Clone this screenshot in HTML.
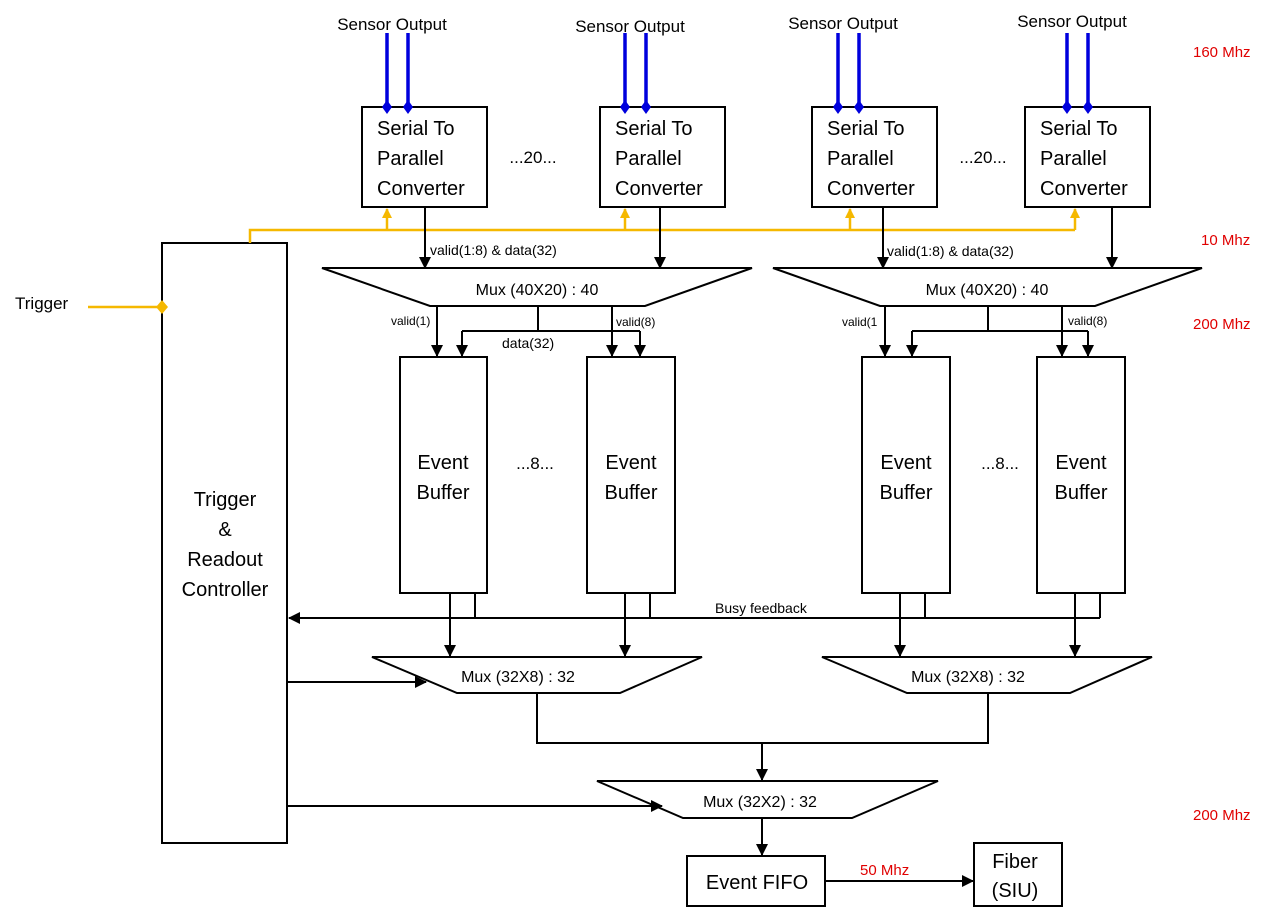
<!DOCTYPE html>
<html><head><meta charset="utf-8"><style>
html,body{margin:0;padding:0;background:#fff;}
svg{display:block;font-family:"Liberation Sans",sans-serif;}
</style></head><body>
<svg width="1287" height="921" viewBox="0 0 1287 921" xmlns="http://www.w3.org/2000/svg">
<defs>
<marker id="a" markerWidth="12" markerHeight="12" refX="11" refY="6" orient="auto" markerUnits="userSpaceOnUse"><path d="M0,0 L12,6 L0,12 z" fill="#000"/></marker>
<marker id="y" markerWidth="10" markerHeight="10" refX="9" refY="5" orient="auto" markerUnits="userSpaceOnUse"><path d="M0,0 L10,5 L0,10 z" fill="#f5b800"/></marker>
</defs>
<g font-size="17" fill="#000" text-anchor="middle">
<text x="392" y="30">Sensor Output</text>
<text x="630" y="32">Sensor Output</text>
<text x="843" y="29">Sensor Output</text>
<text x="1072" y="27">Sensor Output</text>
</g>
<g stroke="#0000dd" stroke-width="3.5">
<line x1="387" y1="33" x2="387" y2="107"/><line x1="408" y1="33" x2="408" y2="107"/>
<line x1="625" y1="33" x2="625" y2="107"/><line x1="646" y1="33" x2="646" y2="107"/>
<line x1="838" y1="33" x2="838" y2="107"/><line x1="859" y1="33" x2="859" y2="107"/>
<line x1="1067" y1="33" x2="1067" y2="107"/><line x1="1088" y1="33" x2="1088" y2="107"/>
</g>
<g fill="#fff" stroke="#000" stroke-width="2">
<rect x="362" y="107" width="125" height="100"/>
<rect x="600" y="107" width="125" height="100"/>
<rect x="812" y="107" width="125" height="100"/>
<rect x="1025" y="107" width="125" height="100"/>
<rect x="162" y="243" width="125" height="600"/>
<rect x="400" y="357" width="87" height="236"/>
<rect x="587" y="357" width="88" height="236"/>
<rect x="862" y="357" width="88" height="236"/>
<rect x="1037" y="357" width="88" height="236"/>
<rect x="687" y="856" width="138" height="50"/>
<rect x="974" y="843" width="88" height="63"/>
<path d="M322,268 L752,268 L645,306 L430,306 Z"/>
<path d="M773,268 L1202,268 L1095,306 L880,306 Z"/>
<path d="M372,657 L702,657 L620,693 L457,693 Z"/>
<path d="M822,657 L1152,657 L1070,693 L907,693 Z"/>
<path d="M597,781 L938,781 L852,818 L683,818 Z"/>
</g>
<g fill="#0000dd">
<path d="M387,100 l5,7 -5,7 -5,-7z"/><path d="M408,100 l5,7 -5,7 -5,-7z"/>
<path d="M625,100 l5,7 -5,7 -5,-7z"/><path d="M646,100 l5,7 -5,7 -5,-7z"/>
<path d="M838,100 l5,7 -5,7 -5,-7z"/><path d="M859,100 l5,7 -5,7 -5,-7z"/>
<path d="M1067,100 l5,7 -5,7 -5,-7z"/><path d="M1088,100 l5,7 -5,7 -5,-7z"/>
</g>
<g font-size="20" fill="#000">
<text x="377" y="135">Serial  To</text><text x="377" y="165">Parallel</text><text x="377" y="195">Converter</text>
<text x="615" y="135">Serial To</text><text x="615" y="165">Parallel</text><text x="615" y="195">Converter</text>
<text x="827" y="135">Serial To</text><text x="827" y="165">Parallel</text><text x="827" y="195">Converter</text>
<text x="1040" y="135">Serial To</text><text x="1040" y="165">Parallel</text><text x="1040" y="195">Converter</text>
</g>
<g font-size="17" text-anchor="middle">
<text x="533" y="163">...20...</text><text x="983" y="163">...20...</text>
<text x="535" y="469">...8...</text><text x="1000" y="469">...8...</text>
</g>
<g font-size="20" text-anchor="middle">
<text x="443" y="469">Event</text><text x="443" y="499">Buffer</text>
<text x="631" y="469">Event</text><text x="631" y="499">Buffer</text>
<text x="906" y="469">Event</text><text x="906" y="499">Buffer</text>
<text x="1081" y="469">Event</text><text x="1081" y="499">Buffer</text>
<text x="225" y="506">Trigger</text><text x="225" y="536">&amp;</text><text x="225" y="566">Readout</text><text x="225" y="596">Controller</text>
<text x="757" y="889">Event FIFO</text>
<text x="1015" y="868">Fiber</text><text x="1015" y="897">(SIU)</text>
</g>
<g font-size="16" text-anchor="middle">
<text x="537" y="295">Mux (40X20) : 40</text>
<text x="987" y="295">Mux (40X20) : 40</text>
<text x="518" y="682">Mux (32X8) : 32</text>
<text x="968" y="682">Mux (32X8) : 32</text>
<text x="760" y="807">Mux (32X2) : 32</text>
</g>
<g font-size="14">
<text x="430" y="255">valid(1:8) &amp; data(32)</text>
<text x="887" y="256">valid(1:8) &amp; data(32)</text>
<text x="502" y="348">data(32)</text>
<text x="715" y="613">Busy feedback</text>
</g>
<g font-size="12">
<text x="391" y="325">valid(1)</text><text x="616" y="326">valid(8)</text>
<text x="842" y="326">valid(1</text><text x="1068" y="325">valid(8)</text>
</g>
<text x="15" y="309" font-size="17">Trigger</text>
<g font-size="15" fill="#e00000">
<text x="1193" y="57">160 Mhz</text><text x="1201" y="245">10 Mhz</text>
<text x="1193" y="329">200 Mhz</text><text x="1193" y="820">200 Mhz</text>
<text x="860" y="875">50 Mhz</text>
</g>
<g stroke="#f5b800" stroke-width="2.5" fill="none">
<polyline points="250,243 250,230 1075,230"/>
<line x1="88" y1="307" x2="160" y2="307"/>
<line x1="387" y1="230" x2="387" y2="209" marker-end="url(#y)"/>
<line x1="625" y1="230" x2="625" y2="209" marker-end="url(#y)"/>
<line x1="850" y1="230" x2="850" y2="209" marker-end="url(#y)"/>
<line x1="1075" y1="230" x2="1075" y2="209" marker-end="url(#y)"/>
</g>
<path d="M162,300 l6,7 -6,7 -6,-7z" fill="#f5b800"/>
<g stroke="#000" stroke-width="2" fill="none">
<line x1="425" y1="207" x2="425" y2="268" marker-end="url(#a)"/>
<line x1="660" y1="207" x2="660" y2="268" marker-end="url(#a)"/>
<line x1="883" y1="207" x2="883" y2="268" marker-end="url(#a)"/>
<line x1="1112" y1="207" x2="1112" y2="268" marker-end="url(#a)"/>
<line x1="437" y1="306" x2="437" y2="356" marker-end="url(#a)"/>
<line x1="612" y1="306" x2="612" y2="356" marker-end="url(#a)"/>
<line x1="538" y1="306" x2="538" y2="331"/>
<line x1="462" y1="331" x2="640" y2="331"/>
<line x1="462" y1="331" x2="462" y2="356" marker-end="url(#a)"/>
<line x1="640" y1="331" x2="640" y2="356" marker-end="url(#a)"/>
<line x1="885" y1="306" x2="885" y2="356" marker-end="url(#a)"/>
<line x1="1062" y1="306" x2="1062" y2="356" marker-end="url(#a)"/>
<line x1="988" y1="306" x2="988" y2="331"/>
<line x1="912" y1="331" x2="1088" y2="331"/>
<line x1="912" y1="331" x2="912" y2="356" marker-end="url(#a)"/>
<line x1="1088" y1="331" x2="1088" y2="356" marker-end="url(#a)"/>
<line x1="1100" y1="618" x2="289" y2="618" marker-end="url(#a)"/>
<line x1="475" y1="593" x2="475" y2="618"/><line x1="650" y1="593" x2="650" y2="618"/>
<line x1="925" y1="593" x2="925" y2="618"/><line x1="1100" y1="593" x2="1100" y2="618"/>
<line x1="450" y1="593" x2="450" y2="656" marker-end="url(#a)"/>
<line x1="625" y1="593" x2="625" y2="656" marker-end="url(#a)"/>
<line x1="900" y1="593" x2="900" y2="656" marker-end="url(#a)"/>
<line x1="1075" y1="593" x2="1075" y2="656" marker-end="url(#a)"/>
<polyline points="537,693 537,743 988,743 988,693"/>
<line x1="762" y1="743" x2="762" y2="780" marker-end="url(#a)"/>
<line x1="762" y1="818" x2="762" y2="855" marker-end="url(#a)"/>
<line x1="825" y1="881" x2="973" y2="881" marker-end="url(#a)"/>
<line x1="287" y1="682" x2="426" y2="682" marker-end="url(#a)"/>
<line x1="287" y1="806" x2="662" y2="806" marker-end="url(#a)"/>
</g>
</svg>
</body></html>
